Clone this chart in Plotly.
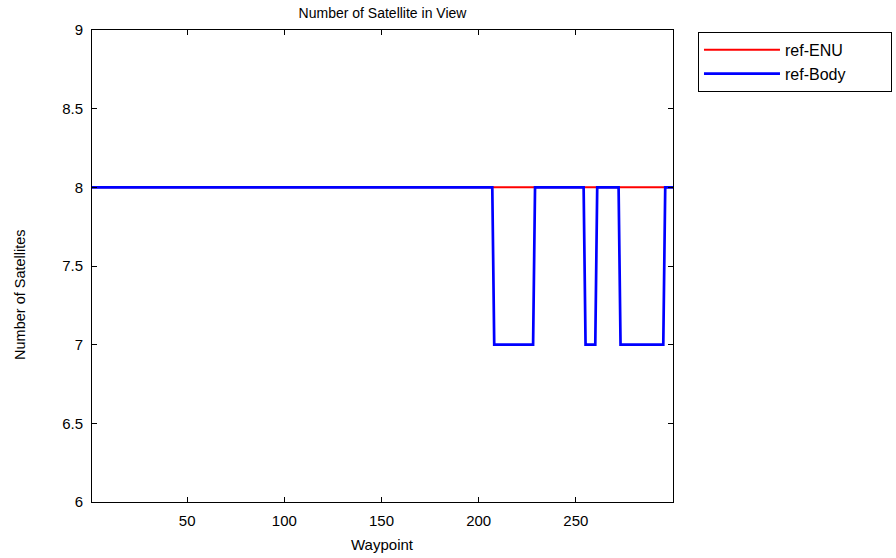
import plotly.graph_objects as go

# waypoint indices 1..300
waypoint = list(range(1, 301))

# ref-ENU sees 8 satellites the whole way
sats_enu = [8] * 300

# ref-Body drops to 7 in a few stretches
drop_ranges = [(208, 228), (255, 260), (273, 295)]
sats_body = [7 if any(a <= w <= b for a, b in drop_ranges) else 8 for w in waypoint]

x_ticks = [50, 100, 150, 200, 250]
y_ticks = [6, 6.5, 7, 7.5, 8, 8.5, 9]

pad = "\u00a0" * 9
fig = go.Figure()
fig.add_trace(go.Scatter(x=waypoint, y=sats_enu, mode="lines", name="ref-ENU" + pad,
                         line=dict(color="#ff0000", width=2)))
fig.add_trace(go.Scatter(x=waypoint, y=sats_body, mode="lines", name="ref-Body" + pad,
                         line=dict(color="#0000ff", width=2.7)))

axis_common = dict(showline=True, linecolor="black", linewidth=1, mirror="ticks",
                   ticks="inside", ticklen=5, tickcolor="black", showgrid=False,
                   zeroline=False, tickfont=dict(size=15, color="black"),
                   ticklabelstandoff=5, automargin=False)

fig.update_layout(
    width=896, height=558,
    margin=dict(l=92, r=223, t=30, b=56, autoexpand=False),
    paper_bgcolor="white", plot_bgcolor="white",
    font=dict(family="Liberation Sans, Arial, sans-serif", color="black"),
    title=dict(text="Number of Satellite in View", x=(92 + 673) / 2 / 896, xanchor="center",
               y=1 - 13 / 558, yanchor="middle", font=dict(size=14)),
    xaxis=dict(range=[1, 300], tickvals=x_ticks, **axis_common),
    yaxis=dict(range=[6, 9], tickvals=y_ticks, ticktext=["6", "6.5", "7", "7.5", "8", "8.5", "9"],
               **axis_common),
    legend=dict(x=1.043, y=0.996, xanchor="left", yanchor="top",
                bordercolor="black", borderwidth=1, bgcolor="white",
                font=dict(size=16), itemwidth=76),
    showlegend=True,
)

# axis titles placed as annotations to match the reference positions
fig.add_annotation(text="Number of Satellites", xref="paper", yref="paper",
                   x=-0.124, y=0.4407, xanchor="center", yanchor="middle",
                   textangle=-90, showarrow=False, font=dict(size=14.5))
fig.add_annotation(text="Waypoint", xref="paper", yref="paper",
                   x=0.5, y=-0.0911, xanchor="center", yanchor="middle",
                   showarrow=False, font=dict(size=15))

fig.write_html("out.html", config={"displayModeBar": False},
               post_script="document.body.style.margin='0';")
